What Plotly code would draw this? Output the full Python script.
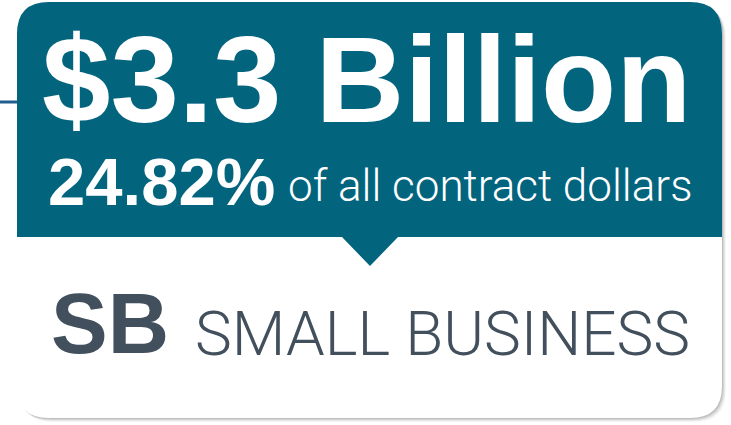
import plotly.graph_objects as go

# ---- content values ----
amount_billion = 3.3
share_pct = 24.82
share_suffix = "of all contract dollars"
category_code = "SB"
category_name = "SMALL BUSINESS"

W, H = 731, 425
TEAL = "#03647e"
DARK = "#424f5c"
LINE = "#1e5d8c"
BOLD = "Liberation Sans, Arial, sans-serif"
LIGHT = "Roboto, Arial, sans-serif"

# card geometry (pixel space)
L, R, T, B = 17, 722, 2, 418
RAD = 32
SPLIT = 237
TRI_L, TRI_R, TRI_TIP_X, TRI_TIP_Y = 342, 398, 370, 266


def rounded_rect(l, t, r, b, rad):
    return (f"M {l+rad},{t} L {r-rad},{t} Q {r},{t} {r},{t+rad} "
            f"L {r},{b-rad} Q {r},{b} {r-rad},{b} L {l+rad},{b} "
            f"Q {l},{b} {l},{b-rad} L {l},{t+rad} Q {l},{t} {l+rad},{t} Z")


def top_panel(l, t, r, b, rad):
    return (f"M {l+rad},{t} L {r-rad},{t} Q {r},{t} {r},{t+rad} "
            f"L {r},{b} L {TRI_R},{b} L {TRI_TIP_X},{TRI_TIP_Y} L {TRI_L},{b} "
            f"L {l},{b} L {l},{t+rad} Q {l},{t} {l+rad},{t} Z")


shapes = []
# soft shadow
for i, op in enumerate([0.10, 0.08, 0.06, 0.04]):
    d = i + 1
    shapes.append(dict(type="path", xref="x", yref="y",
                       path=rounded_rect(L + d, T + d, R + d, B + d, RAD),
                       fillcolor=f"rgba(0,0,0,{op})", line=dict(width=0), layer="below"))
# white card
shapes.append(dict(type="path", xref="x", yref="y", path=rounded_rect(L, T, R, B, RAD),
                   fillcolor="white", line=dict(width=0), layer="below"))
# teal header with pointer
shapes.append(dict(type="path", xref="x", yref="y", path=top_panel(L, T, R, SPLIT, RAD),
                   fillcolor=TEAL, line=dict(width=0), layer="below"))
# connector line on the left
shapes.append(dict(type="line", xref="x", yref="y", x0=0, x1=L, y0=102, y1=102,
                   line=dict(color=LINE, width=3)))

annotations = [
    dict(x=366, y=79, text=f"<b>${amount_billion:.1f} Billion</b>", showarrow=False,
         xanchor="center", yanchor="middle",
         font=dict(family=BOLD, size=123, color="white")),
    dict(x=46, y=181, text=f"<b>{share_pct:.2f}%</b>", showarrow=False,
         xanchor="left", yanchor="middle",
         font=dict(family=BOLD, size=67, color="white")),
    dict(x=694, y=186, text=share_suffix, showarrow=False,
         xanchor="right", yanchor="middle",
         font=dict(family=LIGHT, size=44, color="white", weight=300)),
    dict(x=49, y=323, text=f"<b>{category_code}</b>", showarrow=False,
         xanchor="left", yanchor="middle",
         font=dict(family=BOLD, size=85, color=DARK)),
    dict(x=193, y=333, text=category_name, showarrow=False,
         xanchor="left", yanchor="middle",
         font=dict(family=LIGHT, size=62, color=DARK, weight=300)),
]

fig = go.Figure()
fig.update_layout(
    width=W, height=H,
    margin=dict(l=0, r=0, t=0, b=0),
    paper_bgcolor="white", plot_bgcolor="white",
    xaxis=dict(range=[0, W], visible=False, fixedrange=True),
    yaxis=dict(range=[H, 0], visible=False, fixedrange=True),
    shapes=shapes, annotations=annotations, showlegend=False,
)
fig.write_html("out.html", config={"displayModeBar": False},
               post_script="document.body.style.margin='0';document.body.style.overflow='hidden';")
